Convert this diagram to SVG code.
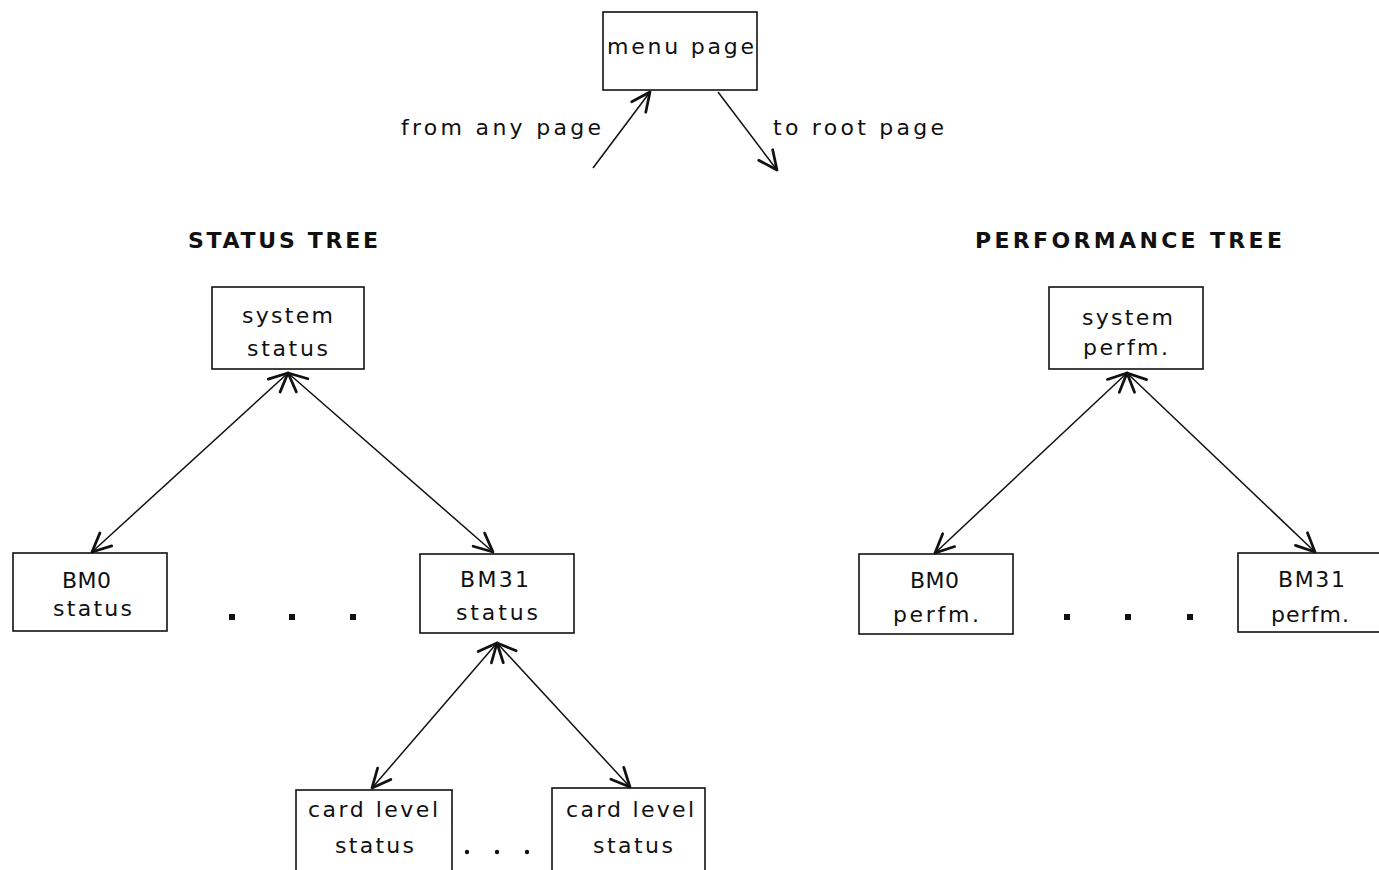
<svg xmlns="http://www.w3.org/2000/svg" width="1379" height="870" viewBox="0 0 1379 870">
  <style>
    .box { fill: #fff; stroke: #111; stroke-width: 1.6; }
    .lbl { font-family: "DejaVu Sans", "Liberation Sans", sans-serif; font-size: 22px; fill: #111; }
    .ttl { font-family: "DejaVu Sans", "Liberation Sans", sans-serif; font-size: 22px; font-weight: bold; fill: #111; }
    .link { fill: none; stroke: #111; stroke-width: 1.5; }
    .dot { fill: #111; }
  </style>
  <defs>
    <marker id="head" markerUnits="userSpaceOnUse" markerWidth="30" markerHeight="30" viewBox="-20 -10 24 20" refX="0" refY="0" orient="auto-start-reverse">
      <path d="M-15,-7 L0,0 L-15,7" fill="none" stroke="#111" stroke-width="2.2" stroke-linecap="round" stroke-linejoin="round"/>
    </marker>
  </defs>

  <rect width="1379" height="870" fill="#fff"/>

  <!-- menu page and its entry / exit -->
  <g id="menu-page">
    <rect class="box" x="603" y="12" width="154" height="78"/>
    <text class="lbl" x="607" y="54" textLength="147" lengthAdjust="spacing">menu page</text>
  </g>
  <g id="menu-labels">
    <text class="lbl" x="401" y="135" textLength="200" lengthAdjust="spacing">from any page</text>
    <text class="lbl" x="773" y="135" textLength="171" lengthAdjust="spacing">to root page</text>
  </g>

  <!-- tree headings -->
  <g id="titles">
    <text class="ttl" x="188" y="248" textLength="190" lengthAdjust="spacing">STATUS TREE</text>
    <text class="ttl" x="975" y="248" textLength="307" lengthAdjust="spacing">PERFORMANCE TREE</text>
  </g>

  <!-- status tree -->
  <g id="system-status">
    <rect class="box" x="212" y="287" width="152" height="82"/>
    <text class="lbl" x="242" y="323" textLength="91" lengthAdjust="spacing">system</text>
    <text class="lbl" x="247" y="356" textLength="81" lengthAdjust="spacing">status</text>
  </g>
  <g id="bm0-status">
    <rect class="box" x="13" y="553" width="154" height="78"/>
    <text class="lbl" x="62" y="588" textLength="49" lengthAdjust="spacing">BM0</text>
    <text class="lbl" x="53" y="616" textLength="79" lengthAdjust="spacing">status</text>
  </g>
  <g id="bm31-status">
    <rect class="box" x="420" y="554" width="154" height="79"/>
    <text class="lbl" x="460" y="587" textLength="69" lengthAdjust="spacing">BM31</text>
    <text class="lbl" x="456" y="620" textLength="82" lengthAdjust="spacing">status</text>
  </g>
  <g id="status-ellipsis">
    <rect class="dot" x="229" y="614" width="6" height="6"/>
    <rect class="dot" x="289" y="614" width="6" height="6"/>
    <rect class="dot" x="350" y="614" width="6" height="6"/>
  </g>
  <g id="card-level-status-1">
    <rect class="box" x="296" y="790" width="156" height="82"/>
    <text class="lbl" x="308" y="817" textLength="130" lengthAdjust="spacing">card level</text>
    <text class="lbl" x="335" y="853" textLength="79" lengthAdjust="spacing">status</text>
  </g>
  <g id="card-level-status-2">
    <rect class="box" x="552" y="788" width="153" height="84"/>
    <text class="lbl" x="566" y="817" textLength="128" lengthAdjust="spacing">card level</text>
    <text class="lbl" x="593" y="853" textLength="80" lengthAdjust="spacing">status</text>
  </g>
  <g id="card-ellipsis">
    <circle class="dot" cx="467" cy="852" r="2.2"/>
    <circle class="dot" cx="497" cy="852" r="2.2"/>
    <circle class="dot" cx="527" cy="852" r="2.2"/>
  </g>

  <!-- performance tree -->
  <g id="system-perfm">
    <rect class="box" x="1049" y="287" width="154" height="82"/>
    <text class="lbl" x="1082" y="325" textLength="91" lengthAdjust="spacing">system</text>
    <text class="lbl" x="1083" y="355" textLength="85" lengthAdjust="spacing">perfm.</text>
  </g>
  <g id="bm0-perfm">
    <rect class="box" x="859" y="554" width="154" height="80"/>
    <text class="lbl" x="910" y="588" textLength="49" lengthAdjust="spacing">BM0</text>
    <text class="lbl" x="893" y="622" textLength="86" lengthAdjust="spacing">perfm.</text>
  </g>
  <g id="bm31-perfm">
    <rect class="box" x="1238" y="553" width="150" height="79"/>
    <text class="lbl" x="1278" y="587" textLength="67" lengthAdjust="spacing">BM31</text>
    <text class="lbl" x="1271" y="622" textLength="78" lengthAdjust="spacing">perfm.</text>
  </g>
  <g id="perfm-ellipsis">
    <rect class="dot" x="1064" y="614" width="6" height="6"/>
    <rect class="dot" x="1125" y="614" width="6" height="6"/>
    <rect class="dot" x="1187" y="614" width="6" height="6"/>
  </g>

  <!-- connectors -->
  <g id="connectors">
    <line class="link" x1="593" y1="168" x2="650" y2="92" marker-end="url(#head)"/>
    <line class="link" x1="718" y1="92" x2="777" y2="170" marker-end="url(#head)"/>

    <line class="link" x1="288" y1="373" x2="92" y2="552" marker-start="url(#head)" marker-end="url(#head)"/>
    <line class="link" x1="288" y1="373" x2="493" y2="552" marker-start="url(#head)" marker-end="url(#head)"/>

    <line class="link" x1="497" y1="643" x2="372" y2="788" marker-start="url(#head)" marker-end="url(#head)"/>
    <line class="link" x1="497" y1="643" x2="630" y2="787" marker-start="url(#head)" marker-end="url(#head)"/>

    <line class="link" x1="1127" y1="373" x2="935" y2="553" marker-start="url(#head)" marker-end="url(#head)"/>
    <line class="link" x1="1127" y1="373" x2="1315" y2="552" marker-start="url(#head)" marker-end="url(#head)"/>
  </g>
</svg>
